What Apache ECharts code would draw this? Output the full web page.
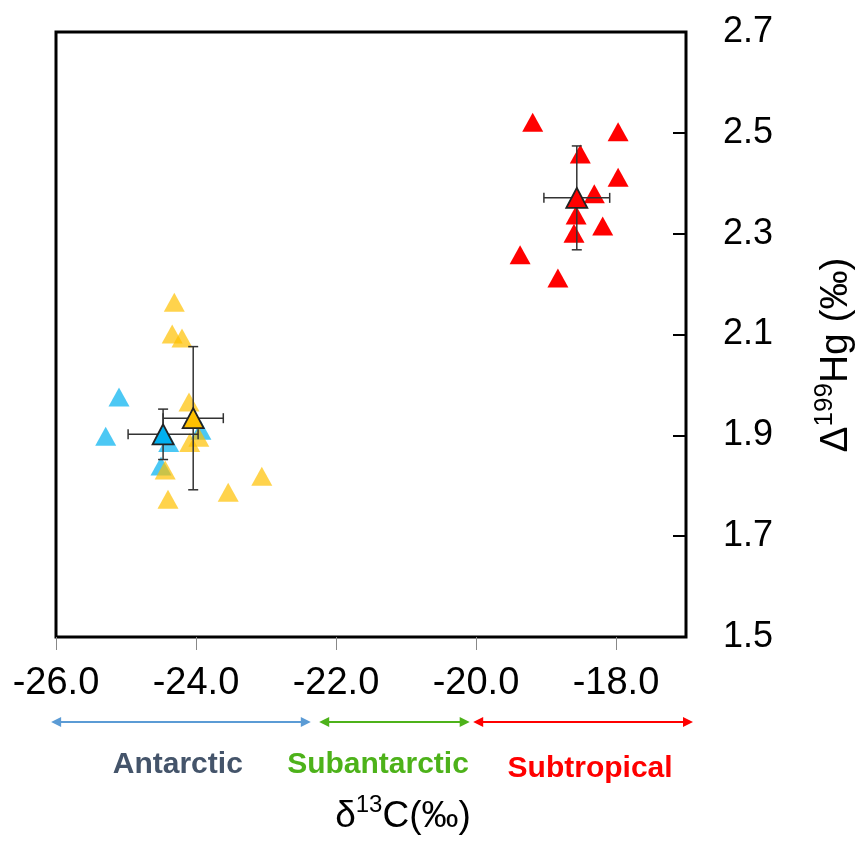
<!DOCTYPE html>
<html>
<head>
<meta charset="utf-8">
<script src="https://cdn.jsdelivr.net/npm/echarts@6/dist/echarts.min.js"></script>
<style>html,body{margin:0;padding:0;background:#fff}#c{width:863px;height:843px}</style>
</head>
<body>
<div id="c"></div>
<script>
// ---- data ----
const xTicks = [-26, -24, -22, -20, -18];
const yTicks = [1.5, 1.7, 1.9, 2.1, 2.3, 2.5, 2.7];

const redX = [-19.19, -17.97, -18.51, -17.97, -18.31, -18.57, -18.19, -18.60, -19.37, -18.83];
const redY = [2.521, 2.502, 2.458, 2.412, 2.379, 2.337, 2.315, 2.301, 2.258, 2.212];

const blueX = [-25.10, -25.29, -24.39, -23.93, -24.50];
const blueY = [1.976, 1.898, 1.886, 1.910, 1.839];

const yellowX = [-24.31, -24.34, -24.20, -24.10, -23.96, -24.09, -24.44, -24.40, -23.54, -23.06];
const yellowY = [2.164, 2.101, 2.093, 1.966, 1.896, 1.886, 1.831, 1.773, 1.787, 1.819];

const meanNames = ['Subtropical', 'Antarctic', 'Subantarctic'];
const meanX = [-18.56, -24.47, -24.04];
const meanY = [2.371, 1.902, 1.934];
const meanXErr = [0.47, 0.50, 0.43];
const meanYErr = [0.103, 0.05, 0.142];
const meanColors = ['#FF0000', '#00B0F0', '#FFC000'];

const zoneNames = ['Antarctic', 'Subantarctic', 'Subtropical'];
const zoneStart = [-26.07, -22.24, -20.04];
const zoneEnd = [-22.36, -20.09, -16.90];
const zoneLabelX = [-24.26, -21.40, -18.37];
const zoneColors = ['#5B9BD5', '#4DB21A', '#FF0000'];
const zoneTextColors = ['#44546A', '#4DB21A', '#FF0000'];
const zoneTextDy = [128, 128, 132];

// ---- build ----
const zip = (a, b) => a.map((v, i) => [v, b[i]]);
const FONT = '"Liberation Sans", Arial, sans-serif';

const chart = echarts.init(document.getElementById('c'), null, {renderer: 'canvas'});

const errData = meanX.map((x, i) => [x, meanY[i], meanXErr[i], meanYErr[i]]);
const zoneData = zoneStart.map((s, i) => [s, 1.5, zoneEnd[i], zoneLabelX[i], i]);

const richX = {
  a: {fontSize: 37, fontFamily: FONT, color: '#000', verticalAlign: 'bottom', lineHeight: 42},
  s: {fontSize: 24, fontFamily: FONT, color: '#000', verticalAlign: 'top', lineHeight: 42}
};
const richY = {
  a: {fontSize: 39, fontFamily: FONT, color: '#000', verticalAlign: 'bottom', lineHeight: 44},
  s: {fontSize: 26, fontFamily: FONT, color: '#000', verticalAlign: 'top', lineHeight: 44}
};

const option = {
  animation: false,
  backgroundColor: '#fff',
  grid: {left: 56, right: 177, top: 32, bottom: 206, show: true, borderColor: '#000', borderWidth: 3, backgroundColor: 'transparent'},
  xAxis: {
    type: 'value', min: -26, max: -17,
    splitLine: {show: false},
    axisLine: {show: false},
    axisTick: {show: true, inside: false, length: 13, lineStyle: {color: '#888', width: 1}, customValues: xTicks},
    axisLabel: {customValues: xTicks, formatter: v => v.toFixed(1), fontSize: 38, color: '#000', fontFamily: FONT, margin: 28}
  },
  yAxis: {
    type: 'value', min: 1.5, max: 2.7, position: 'right',
    splitLine: {show: false},
    axisLine: {show: false},
    axisTick: {show: true, inside: true, length: 13, lineStyle: {color: '#000', width: 2}, customValues: yTicks},
    axisLabel: {customValues: yTicks, formatter: v => v.toFixed(1), fontSize: 36, color: '#000', fontFamily: FONT, margin: 37}
  },
  graphic: [
    {
      type: 'text', z: 100,
      x: 403, y: 814,
      style: {
        text: '{a|δ}{s|13}{a|C(‰)}',
        x: 0, y: 0, align: 'center', verticalAlign: 'middle',
        rich: richX
      }
    },
    {
      type: 'text', z: 100,
      x: 834, y: 355, rotation: Math.PI / 2,
      style: {
        text: '{a|Δ}{s|199}{a|Hg (‰)}',
        x: 0, y: 0, align: 'center', verticalAlign: 'middle',
        rich: richY
      }
    }
  ],
  series: [
    {
      name: 'Subtropical', type: 'scatter', data: zip(redX, redY), symbol: 'triangle', symbolSize: [21, 19],
      itemStyle: {color: '#FF0000', opacity: 1}, z: 2
    },
    {
      name: 'Antarctic', type: 'scatter', data: zip(blueX, blueY), symbol: 'triangle', symbolSize: [21, 19],
      itemStyle: {color: '#00B0F0', opacity: 0.7}, z: 2
    },
    {
      name: 'Subantarctic', type: 'scatter', data: zip(yellowX, yellowY), symbol: 'triangle', symbolSize: [21, 19],
      itemStyle: {color: '#FFC000', opacity: 0.7}, z: 3
    },
    {
      type: 'custom', z: 5, data: errData, encode: {x: 0, y: 1},
      renderItem: function (params, api) {
        const x = api.value(0), y = api.value(1), ex = api.value(2), ey = api.value(3);
        const c = api.coord([x, y]);
        const l = api.coord([x - ex, y]), r = api.coord([x + ex, y]);
        const t = api.coord([x, y + ey]), b = api.coord([x, y - ey]);
        const cap = 5;
        const st = {stroke: '#333', lineWidth: 1.5};
        return {
          type: 'group',
          children: [
            {type: 'line', shape: {x1: l[0], y1: c[1], x2: r[0], y2: c[1]}, style: st},
            {type: 'line', shape: {x1: c[0], y1: t[1], x2: c[0], y2: b[1]}, style: st},
            {type: 'line', shape: {x1: l[0], y1: c[1] - cap, x2: l[0], y2: c[1] + cap}, style: st},
            {type: 'line', shape: {x1: r[0], y1: c[1] - cap, x2: r[0], y2: c[1] + cap}, style: st},
            {type: 'line', shape: {x1: c[0] - cap, y1: t[1], x2: c[0] + cap, y2: t[1]}, style: st},
            {type: 'line', shape: {x1: c[0] - cap, y1: b[1], x2: c[0] + cap, y2: b[1]}, style: st}
          ]
        };
      }
    },
    {
      type: 'scatter', z: 6, symbol: 'triangle', symbolSize: [21, 20],
      data: meanX.map((x, i) => ({value: [x, meanY[i]], itemStyle: {color: meanColors[i], opacity: 1, borderColor: '#222', borderWidth: 1.8}}))
    },
    {
      type: 'custom', z: 10, clip: false, data: zoneData, encode: {x: 0, y: 1},
      renderItem: function (params, api) {
        const cs = params.coordSys;
        const bottom = cs.y + cs.height;
        const i = api.value(4);
        const x1 = api.coord([api.value(0), 1.5])[0];
        const x2 = api.coord([api.value(2), 1.5])[0];
        const lx = api.coord([api.value(3), 1.5])[0];
        const ay = bottom + 85;
        const col = zoneColors[i];
        const hl = 10, hh = 5;
        return {
          type: 'group',
          children: [
            {type: 'line', shape: {x1: x1 + hl - 1, y1: ay, x2: x2 - hl + 1, y2: ay}, style: {stroke: col, lineWidth: 2}},
            {type: 'polygon', shape: {points: [[x1, ay], [x1 + hl, ay - hh], [x1 + hl, ay + hh]]}, style: {fill: col}},
            {type: 'polygon', shape: {points: [[x2, ay], [x2 - hl, ay - hh], [x2 - hl, ay + hh]]}, style: {fill: col}},
            {type: 'text', style: {text: zoneNames[i], x: lx, y: bottom + zoneTextDy[i], align: 'center', verticalAlign: 'middle',
              fill: zoneTextColors[i], fontSize: 30, fontWeight: 'bold', fontFamily: FONT}}
          ]
        };
      }
    }
  ]
};
chart.setOption(option);
</script>
</body>
</html>
